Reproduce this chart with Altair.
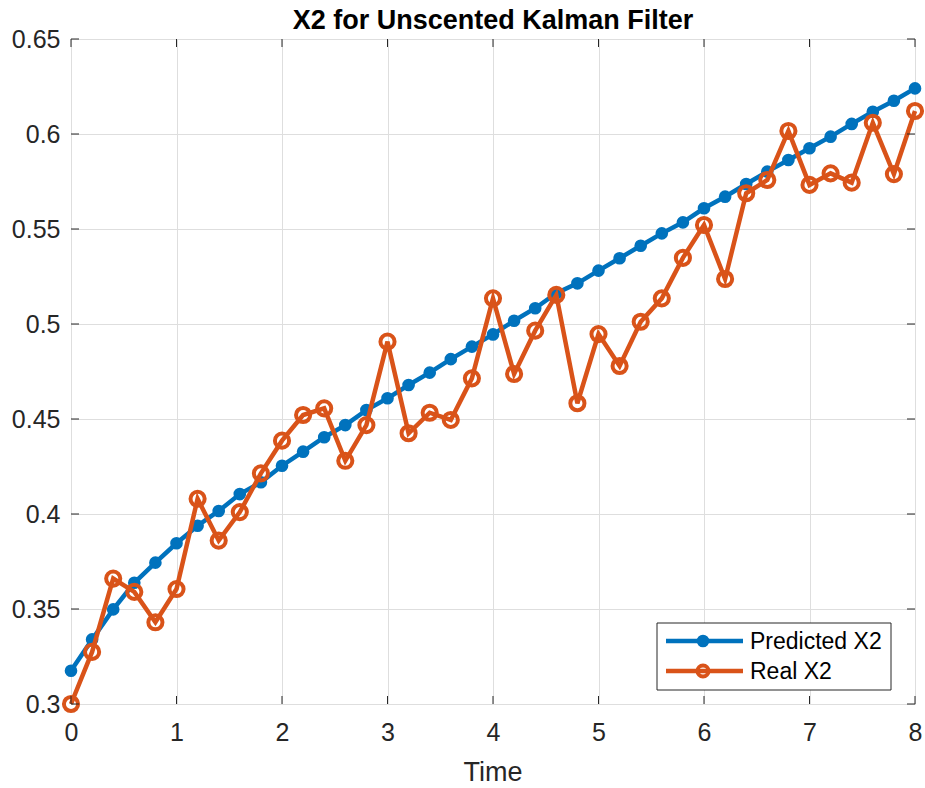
import altair as alt
import pandas as pd

# ---- data ----
time = [0.0, 0.2, 0.4, 0.6, 0.8, 1.0, 1.2, 1.4, 1.6, 1.8,
        2.0, 2.2, 2.4, 2.6, 2.8, 3.0, 3.2, 3.4, 3.6, 3.8,
        4.0, 4.2, 4.4, 4.6, 4.8, 5.0, 5.2, 5.4, 5.6, 5.8,
        6.0, 6.2, 6.4, 6.6, 6.8, 7.0, 7.2, 7.4, 7.6, 7.8, 8.0]
predicted = [0.3175, 0.334, 0.3498, 0.3638, 0.3744, 0.3846, 0.3938, 0.4016, 0.4105, 0.4167,
             0.4254, 0.4328, 0.4404, 0.4468, 0.4547, 0.4609, 0.4679, 0.4744, 0.4815, 0.4881,
             0.4945, 0.5017, 0.5083, 0.5162, 0.5214, 0.5281, 0.5346, 0.5412, 0.5477, 0.5535,
             0.5609, 0.5670, 0.5737, 0.5802, 0.5863, 0.5925, 0.5986, 0.6053, 0.6117, 0.6175, 0.6240]
real = [0.300, 0.3274, 0.366, 0.359, 0.343, 0.3605, 0.408, 0.386, 0.401, 0.4214,
        0.4386, 0.4521, 0.4556, 0.428, 0.4468, 0.4907, 0.4425, 0.4533, 0.4495, 0.4714,
        0.5135, 0.4737, 0.4965, 0.5153, 0.4583, 0.4947, 0.4779, 0.5012, 0.5135, 0.5348,
        0.5521, 0.5237, 0.5688, 0.5758, 0.6016, 0.5732, 0.5793, 0.5744, 0.6059, 0.5789, 0.6121]
series = ["Predicted X2", "Real X2"]
colors = ["#0072BD", "#D95319"]
x_ticks = [0, 1, 2, 3, 4, 5, 6, 7, 8]
y_ticks = [0.3, 0.35, 0.4, 0.45, 0.5, 0.55, 0.6, 0.65]
title_text = ["X2 for Unscented Kalman Filter"]
x_title = ["Time"]

W, H = 844, 665
AX = "#262626"
FONT = "Liberation Sans"
LW = 4.5

df = pd.DataFrame({
    "Time": time + time,
    "value": predicted + real,
    "series": [series[0]] * len(time) + [series[1]] * len(time),
})
df_pred = df[df.series == series[0]]
df_real = df[df.series == series[1]]

xscale = alt.Scale(domain=[0, 8], nice=False, zero=False)
yscale = alt.Scale(domain=[0.3, 0.65], nice=False, zero=False)
cscale = alt.Scale(domain=series, range=colors)

label_expr = ("datum.value == 0.3 ? '0.3' : datum.value == 0.4 ? '0.4' : "
              "datum.value == 0.5 ? '0.5' : datum.value == 0.6 ? '0.6' : format(datum.value, '.2f')")

x_axis = alt.Axis(values=x_ticks, format="d", grid=True, gridColor="#DEDEDE", gridWidth=1,
                  ticks=False, domain=False, labelFontSize=25, labelColor=AX, labelPadding=16,
                  labelFont=FONT, labelFlush=False, labelOverlap=False, title=None)
y_axis = alt.Axis(values=y_ticks, labelExpr=label_expr, grid=True, gridColor="#DEDEDE", gridWidth=1,
                  ticks=False, domain=False, labelFontSize=25, labelColor=AX, labelPadding=11,
                  labelFont=FONT, labelFlush=False, labelOverlap=False, title=None)

pred_line = alt.Chart(df_pred).mark_line(strokeWidth=LW).encode(
    x=alt.X("Time:Q", scale=xscale, axis=x_axis),
    y=alt.Y("value:Q", scale=yscale, axis=y_axis),
    color=alt.Color("series:N", scale=cscale, legend=None),
)
pred_pts = alt.Chart(df_pred).mark_point(filled=True, shape="circle", size=160, opacity=1).encode(
    x=alt.X("Time:Q", scale=xscale),
    y=alt.Y("value:Q", scale=yscale),
    color=alt.Color("series:N", scale=cscale, legend=None),
)
real_line = alt.Chart(df_real).mark_line(strokeWidth=LW).encode(
    x=alt.X("Time:Q", scale=xscale),
    y=alt.Y("value:Q", scale=yscale),
    color=alt.Color("series:N", scale=cscale, legend=None),
)
real_pts = alt.Chart(df_real).mark_point(filled=False, shape="circle", size=200, strokeWidth=4, opacity=1).encode(
    x=alt.X("Time:Q", scale=xscale),
    y=alt.Y("value:Q", scale=yscale),
    color=alt.Color("series:N", scale=cscale, legend=None),
)

# inward ticks on all four sides (MATLAB box style)
xt = pd.DataFrame({"t": x_ticks})
yt = pd.DataFrame({"v": y_ticks})
TL = 8
xt_bottom = alt.Chart(xt).mark_rule(color=AX, strokeWidth=1).encode(
    x=alt.X("t:Q", scale=xscale), y=alt.value(H), y2=alt.value(H - TL))
xt_top = alt.Chart(xt).mark_rule(color=AX, strokeWidth=1).encode(
    x=alt.X("t:Q", scale=xscale), y=alt.value(0), y2=alt.value(TL))
yt_left = alt.Chart(yt).mark_rule(color=AX, strokeWidth=1).encode(
    y=alt.Y("v:Q", scale=yscale), x=alt.value(0), x2=alt.value(TL))
yt_right = alt.Chart(yt).mark_rule(color=AX, strokeWidth=1).encode(
    y=alt.Y("v:Q", scale=yscale), x=alt.value(W), x2=alt.value(W - TL))

# title and x-axis title as text layers
title_layer = alt.Chart(pd.DataFrame({"t": title_text})).mark_text(
    fontSize=27, fontWeight="bold", font=FONT, color="black", align="center", baseline="alphabetic").encode(
    x=alt.value(W / 2), y=alt.value(-10), text="t:N")
xtitle_layer = alt.Chart(pd.DataFrame({"t": x_title})).mark_text(
    fontSize=27, font=FONT, color=AX, align="center", baseline="alphabetic").encode(
    x=alt.value(W / 2), y=alt.value(742), text="t:N")

# legend box (bottom right, MATLAB style)
LX0, LX1, LY0, LY1 = 586, 820, 584, 651
leg_box = alt.Chart(pd.DataFrame({"a": [0]})).mark_rect(
    fill="white", stroke=AX, strokeWidth=1).encode(
    x=alt.value(LX0), x2=alt.value(LX1), y=alt.value(LY0), y2=alt.value(LY1))

leg_layers = []
entry_y = [602, 632]
for i, name in enumerate(series):
    d = pd.DataFrame({"series": [name]})
    yv = entry_y[i]
    leg_layers.append(alt.Chart(d).mark_rule(strokeWidth=LW).encode(
        x=alt.value(595), x2=alt.value(672), y=alt.value(yv),
        color=alt.Color("series:N", scale=cscale, legend=None)))
    if i == 0:
        leg_layers.append(alt.Chart(d).mark_point(filled=True, shape="circle", size=160, opacity=1).encode(
            x=alt.value(632), y=alt.value(yv),
            color=alt.Color("series:N", scale=cscale, legend=None)))
    else:
        leg_layers.append(alt.Chart(d).mark_point(filled=False, shape="circle", size=120, strokeWidth=4, opacity=1).encode(
            x=alt.value(632), y=alt.value(yv),
            color=alt.Color("series:N", scale=cscale, legend=None)))
    leg_layers.append(alt.Chart(d).mark_text(align="left", baseline="alphabetic", fontSize=23,
                                             font=FONT, color="black").encode(
        x=alt.value(679), y=alt.value(yv + 8), text="series:N"))

chart = alt.layer(
    pred_line, pred_pts, real_line, real_pts,
    xt_bottom, xt_top, yt_left, yt_right,
    leg_box, *leg_layers,
    title_layer, xtitle_layer,
).properties(
    width=W, height=H,
    autosize=alt.AutoSizeParams(type="none"),
    padding={"left": 71, "top": 39, "right": 10, "bottom": 84},
).configure_view(
    stroke=AX, strokeWidth=1,
).configure(
    background="white",
)

chart.save("out.html", embed_options={"renderer": "svg", "actions": False})
